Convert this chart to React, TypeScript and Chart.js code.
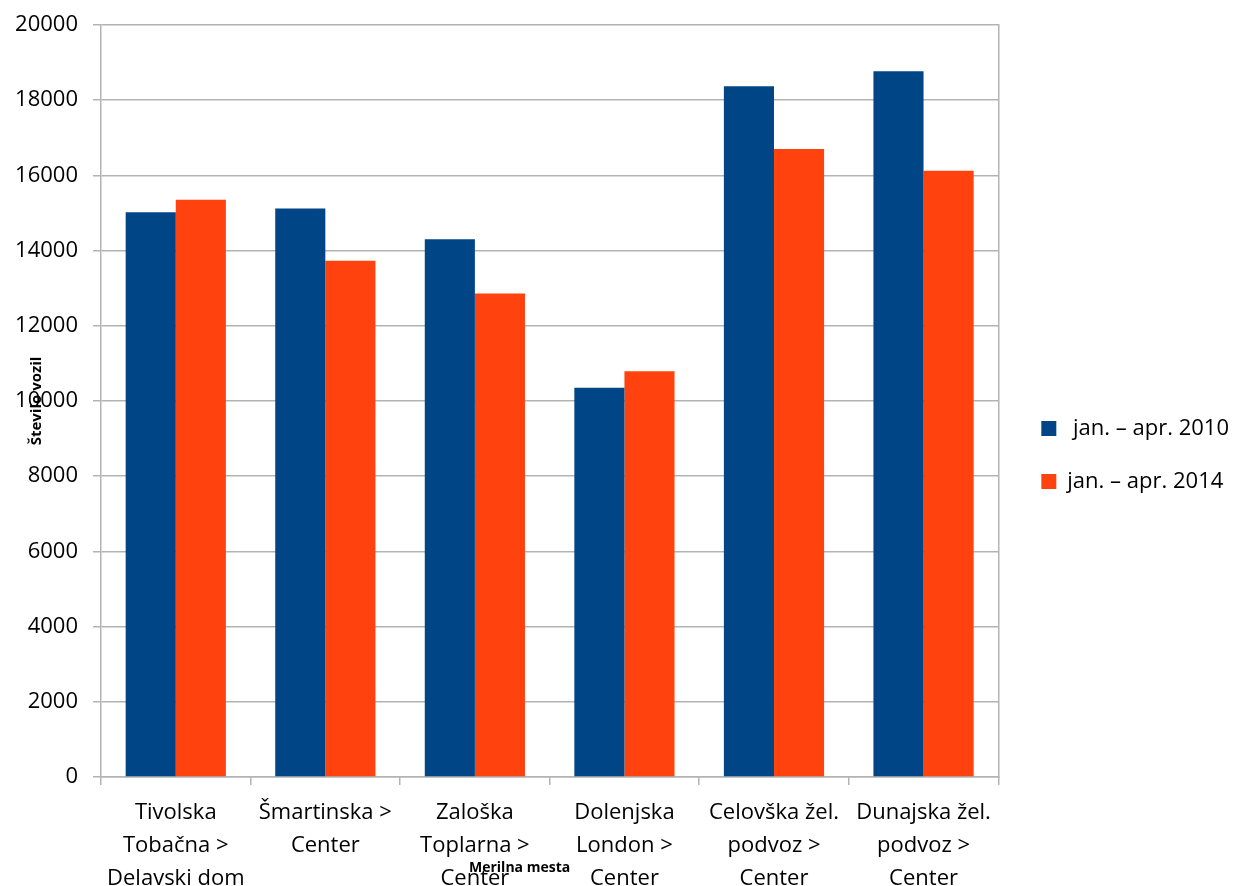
import React, { useEffect, useRef } from "react";
import { Chart, registerables } from "chart.js";

Chart.register(...registerables);

const categories: string[][] = [
  ["Tivolska", "Tobačna >", "Delavski dom"],
  ["Šmartinska >", "Center"],
  ["Zaloška", "Toplarna >", "Center"],
  ["Dolenjska", "London >", "Center"],
  ["Celovška žel.", "podvoz >", "Center"],
  ["Dunajska žel.", "podvoz >", "Center"],
];
const series2010Label = " jan. – apr. 2010";
const series2014Label = "jan. – apr. 2014";
const values2010: number[] = [15020, 15120, 14300, 10350, 18370, 18770];
const values2014: number[] = [15350, 13730, 12860, 10790, 16700, 16120];
const yTicks = { min: 0, max: 20000, step: 2000 };
const xTitle = "Merilna mesta";
const yTitle = "Število vozil";

const FONT = '"Open Sans", "Noto Sans", sans-serif';
const GRID = "#b3b3b3";

const axisTitles = {
  id: "axisTitles",
  afterDraw(chart: any) {
    const { ctx, chartArea } = chart;
    ctx.save();
    ctx.font = `bold 14px ${FONT}`;
    ctx.fillStyle = "#000";
    ctx.textAlign = "center";
    ctx.textBaseline = "middle";
    ctx.fillText(xTitle, chartArea.left + (chartArea.right - chartArea.left) * 0.4665, chart.height - 18);
    ctx.font = `bold 15px ${FONT}`;
    ctx.translate(37, (chartArea.top + chartArea.bottom) / 2);
    ctx.rotate(-Math.PI / 2);
    ctx.fillText(yTitle, 0, 0);
    ctx.restore();
  },
};

export default function App() {
  const ref = useRef<HTMLCanvasElement | null>(null);
  useEffect(() => {
    if (!ref.current) return;
    const chart = new Chart(ref.current, {
      type: "bar",
      data: {
        labels: categories,
        datasets: [
          { label: series2010Label, data: values2010, backgroundColor: "#004586" },
          { label: series2014Label, data: values2014, backgroundColor: "#ff420e" },
        ],
      },
      options: {
        animation: false,
        responsive: true,
        maintainAspectRatio: false,
        layout: { padding: { top: 24, left: 0, right: 0, bottom: 0 } },
        datasets: { bar: { categoryPercentage: 0.67, barPercentage: 1 } },
        plugins: {
          legend: {
            position: "right",
            maxWidth: 230,
            labels: {
              boxWidth: 15,
              boxHeight: 15,
              padding: 31,
              color: "#000",
              font: { family: FONT, size: 22 },
            },
          },
          tooltip: { enabled: false },
          title: { display: false },
        },
        scales: {
          x: {
            offset: true,
            grid: { display: true, drawOnChartArea: false, tickLength: 8, color: GRID, lineWidth: 1.5, offset: true },
            border: { display: true, color: GRID, width: 1.5 },
            ticks: {
              color: "#000",
              font: { family: FONT, size: 22, lineHeight: 1.5 },
              padding: 11,
              autoSkip: false,
              maxRotation: 0,
              minRotation: 0,
            },
            afterFit: (s: any) => {
              s.height = 109;
            },
          },
          y: {
            min: yTicks.min,
            max: yTicks.max,
            grid: { color: GRID, lineWidth: 1.5, tickLength: 8 },
            border: { display: true, color: GRID, width: 1.5 },
            ticks: {
              stepSize: yTicks.step,
              color: "#000",
              padding: 15,
              font: { family: FONT, size: 22, lineHeight: 0.9 },
              callback: (v: any) => String(v),
            },
            afterFit: (s: any) => {
              s.width = 101;
            },
          },
          yRight: {
            position: "right",
            min: yTicks.min,
            max: yTicks.max,
            grid: { display: false },
            border: { display: true, color: GRID, width: 1.5 },
            ticks: { display: false },
            afterFit: (s: any) => {
              s.width = 12;
            },
          },
        },
      },
      plugins: [axisTitles],
    });
    return () => chart.destroy();
  }, []);
  return (
    <div style={{ position: "fixed", left: 0, top: 0, width: 1239, height: 886, background: "#fff" }}>
      <canvas ref={ref} />
    </div>
  );
}
